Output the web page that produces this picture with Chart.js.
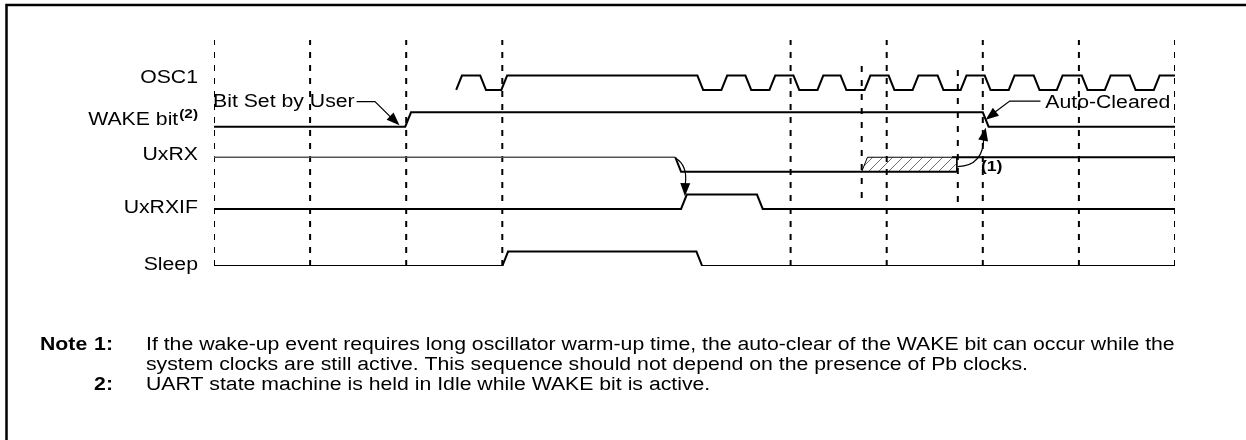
<!DOCTYPE html>
<html>
<head>
<meta charset="utf-8">
<script src="https://cdn.jsdelivr.net/npm/chart.js@4.4.1/dist/chart.umd.min.js"></script>
<style>
    html, body { margin: 0; padding: 0; background: #fff; }
    #wrap { width: 1246px; height: 440px; }
</style>
</head>
<body>
<div id="wrap"><canvas id="timing"></canvas></div>
<script>
// Signal names, top to bottom
const rows = ['OSC1', 'WAKE bit', 'UxRX', 'UxRXIF', 'Sleep'];
// Low level of each trace (high level = low + 1)
const rowBase = [12.22, 9.67, 6.55, 3.96, 0];
// Vertical position of each row label
const labelLevel = [13.06, 10.14, 7.71, 4.03, 0.07];

// Time axis: one unit = one dashed division
const gridTimes = [0, 1, 2, 3, 6, 7, 8, 9, 10];
const markerTimes = [6.74, 7.74];
const markerTop = [14.4, 13.95];
const markerBottom = [4.72, 4.44];

// Edge start times of each signal (every edge toggles the level)
const osc1Edges = [2.52, 2.77, 2.99, 5.03, 5.28, 5.53, 5.78, 6.03, 6.28, 6.52, 6.77,
                   7.02, 7.27, 7.53, 7.77, 8.02, 8.27, 8.53, 8.77, 9.03, 9.27, 9.53, 9.78];
const wakeEdges = [1.99, 8.0];
const uxrxEdges = [4.80];
const uxrxifEdges = [4.86, 5.65];
const sleepEdges = [3.0, 5.02];

// UxRX: first trace ends where the hatched (unknown) period ends; second trace is the idle-high after it
const uxrxEnd = 7.73;
const uxrxIdle = [7.68, 10];
const hatchSpan = [6.74, 7.73];

const SLEW = 0.06;

function buildWave(start, end, initLevel, edges, base) {
    var pts = [];
    var level = initLevel;
    pts.push({ x: start, y: base + level });
    edges.forEach(function(t) {
        pts.push({ x: t, y: base + level });
        level = 1 - level;
        pts.push({ x: t + SLEW, y: base + level });
    });
    pts.push({ x: end, y: base + level });
    return pts;
}

// Diagonal hatch pattern for the UxRX box
function makeHatch() {
    var c = document.createElement('canvas');
    c.width = 10; c.height = 10;
    var g = c.getContext('2d');
    g.strokeStyle = '#707070';
    g.lineWidth = 1;
    g.beginPath();
    g.moveTo(0, 10); g.lineTo(10, 0);
    g.moveTo(-5, 5); g.lineTo(5, -5);
    g.moveTo(5, 15); g.lineTo(15, 5);
    g.stroke();
    return g.createPattern(c, 'repeat');
}

var datasets = [];

function trace(data, extra) {
    var ds = {
        data: data,
        borderColor: '#000',
        borderWidth: 2,
        pointRadius: 0,
        tension: 0,
        fill: false
    };
    return Object.assign(ds, extra || {});
}

datasets.push(trace(buildWave(osc1Edges[0], 10, 0, osc1Edges, rowBase[0])));
datasets.push(trace(buildWave(0, 10, 0, wakeEdges, rowBase[1])));
datasets.push(trace(buildWave(0, uxrxEnd, 1, uxrxEdges, rowBase[2]), {
    segment: {
        borderColor: function(ctx) { return ctx.p0.parsed.x < uxrxEdges[0] ? '#555' : '#000'; },
        borderWidth: function(ctx) { return ctx.p0.parsed.x < uxrxEdges[0] ? 1.5 : 2; }
    }
}));
datasets.push(trace([{ x: uxrxIdle[0], y: rowBase[2] + 1 }, { x: uxrxIdle[1], y: rowBase[2] + 1 }]));
datasets.push(trace(buildWave(0, 10, 0, uxrxifEdges, rowBase[3])));
datasets.push(trace(buildWave(0, 10, 0, sleepEdges, rowBase[4])));

// hatched box
datasets.push(trace([
    { x: hatchSpan[0], y: rowBase[2] },
    { x: hatchSpan[0] + SLEW, y: rowBase[2] + 1 },
    { x: hatchSpan[1], y: rowBase[2] + 1 },
    { x: hatchSpan[1], y: rowBase[2] }
], { borderWidth: 1, fill: { value: rowBase[2] }, backgroundColor: makeHatch(), order: 1 }));

// dashed time divisions
gridTimes.forEach(function(t) {
    datasets.push(trace([{ x: t, y: 0 }, { x: t, y: 15.69 }], { borderDash: [6, 7], order: 2 }));
});
markerTimes.forEach(function(t, i) {
    datasets.push(trace([{ x: t, y: markerBottom[i] }, { x: t, y: markerTop[i] }], { borderDash: [6, 8], order: 2 }));
});

var FONT = '"Liberation Sans", Arial, sans-serif';
var SX = 1.18;   // text in the figure is drawn wide

function wideText(ctx, text, x, y, align) {
    ctx.save();
    ctx.translate(x, y);
    ctx.scale(SX, 1);
    ctx.textAlign = align || 'left';
    ctx.fillText(text, 0, 0);
    ctx.restore();
    return ctx.measureText(text).width * SX;
}

function arrowHead(ctx, fx, fy, tx, ty, len, half) {
    var a = Math.atan2(ty - fy, tx - fx);
    ctx.beginPath();
    ctx.moveTo(tx, ty);
    ctx.lineTo(tx - len * Math.cos(a) + half * Math.sin(a), ty - len * Math.sin(a) - half * Math.cos(a));
    ctx.lineTo(tx - len * Math.cos(a) - half * Math.sin(a), ty - len * Math.sin(a) + half * Math.cos(a));
    ctx.closePath();
    ctx.fill();
}

const decor = {
    id: 'decor',
    beforeDraw: function(chart) {
        var ctx = chart.ctx;
        ctx.save();
        ctx.fillStyle = '#fff';
        ctx.fillRect(0, 0, chart.width, chart.height);
        // frame
        ctx.strokeStyle = '#000';
        ctx.lineWidth = 2.5;
        ctx.beginPath();
        ctx.moveTo(6.5, chart.height);
        ctx.lineTo(6.5, 5);
        ctx.lineTo(chart.width, 5);
        ctx.stroke();
        ctx.restore();
    },
    afterDatasetsDraw: function(chart) {
        var ctx = chart.ctx;
        var xs = chart.scales.x, ys = chart.scales.y;
        var X = function(v) { return xs.getPixelForValue(v); };
        var Y = function(v) { return ys.getPixelForValue(v); };
        ctx.save();
        ctx.fillStyle = '#000';
        ctx.strokeStyle = '#000';
        ctx.textBaseline = 'middle';

        // row labels
        ctx.font = '18px ' + FONT;
        var labelRight = X(0) - 16;
        rows.forEach(function(name, i) {
            if (i === 1) {
                ctx.font = 'bold 13px ' + FONT;
                var w = ctx.measureText('(2)').width * SX;
                wideText(ctx, '(2)', labelRight, Y(labelLevel[i]) - 6, 'right');
                ctx.font = '18px ' + FONT;
                wideText(ctx, name, labelRight - w - 1, Y(labelLevel[i]), 'right');
            } else {
                wideText(ctx, name, labelRight, Y(labelLevel[i]), 'right');
            }
        });

        ctx.lineWidth = 1.2;

        // "Bit Set by User" callout
        var tw = wideText(ctx, 'Bit Set by User', X(0) - 1, Y(11.41), 'left');
        ctx.beginPath();
        ctx.moveTo(X(0) + tw + 1, Y(11.41));
        ctx.lineTo(X(1.675), Y(11.41));
        ctx.lineTo(X(1.86), Y(10.2));
        ctx.stroke();
        arrowHead(ctx, X(1.675), Y(11.41), X(1.93), Y(9.78), 13, 5);

        // "Auto-Cleared" callout
        wideText(ctx, 'Auto-Cleared', X(8.65), Y(11.32), 'left');
        ctx.beginPath();
        ctx.moveTo(X(8.6), Y(11.45));
        ctx.lineTo(X(8.28), Y(11.45));
        ctx.lineTo(X(8.1), Y(10.55));
        ctx.stroke();
        arrowHead(ctx, X(8.28), Y(11.45), X(8.03), Y(10.15), 13, 5);

        // curved arrow from end of hatched period to WAKE falling edge
        ctx.beginPath();
        ctx.moveTo(X(7.74), Y(6.55 + 0.35));
        ctx.quadraticCurveTo(X(8.01), Y(6.95), X(8.01), Y(8.95));
        ctx.stroke();
        arrowHead(ctx, X(8.0), Y(8.6), X(8.03), Y(9.6), 13, 5);
        ctx.font = 'bold 15px ' + FONT;
        wideText(ctx, '(1)', X(7.98), Y(6.88), 'left');

        // curved arrow from UxRX falling edge to UxRXIF rising edge
        ctx.beginPath();
        ctx.moveTo(X(4.80), Y(7.5));
        ctx.quadraticCurveTo(X(4.93), Y(7.0), X(4.905), Y(5.7));
        ctx.stroke();
        arrowHead(ctx, X(4.905), Y(5.9), X(4.9), Y(4.85), 13, 5);

        // notes
        var noteY = [345, 365, 385];
        ctx.font = 'bold 18px ' + FONT;
        wideText(ctx, 'Note', 40, noteY[0], 'left');
        wideText(ctx, '1:', 113, noteY[0], 'right');
        wideText(ctx, '2:', 113, noteY[2], 'right');
        ctx.font = '18px ' + FONT;
        wideText(ctx, 'If the wake-up event requires long oscillator warm-up time, the auto-clear of the WAKE bit can occur while the', 146, noteY[0], 'left');
        wideText(ctx, 'system clocks are still active. This sequence should not depend on the presence of Pb clocks.', 146, noteY[1], 'left');
        wideText(ctx, 'UART state machine is held in Idle while WAKE bit is active.', 146, noteY[2], 'left');

        ctx.restore();
    }
};

new Chart(document.getElementById('timing'), {
    type: 'line',
    data: { datasets: datasets },
    options: {
        responsive: true,
        maintainAspectRatio: false,
        animation: false,
        devicePixelRatio: 1,
        layout: { padding: { left: 214, right: 71, top: 40, bottom: 174 } },
        scales: {
            x: { type: 'linear', min: 0, max: 10, display: false },
            y: { type: 'linear', min: 0, max: 15.69, display: false }
        },
        plugins: {
            legend: { display: false },
            tooltip: { enabled: false }
        },
        elements: { line: { borderCapStyle: 'butt' } }
    },
    plugins: [decor]
});
</script>
</body>
</html>
